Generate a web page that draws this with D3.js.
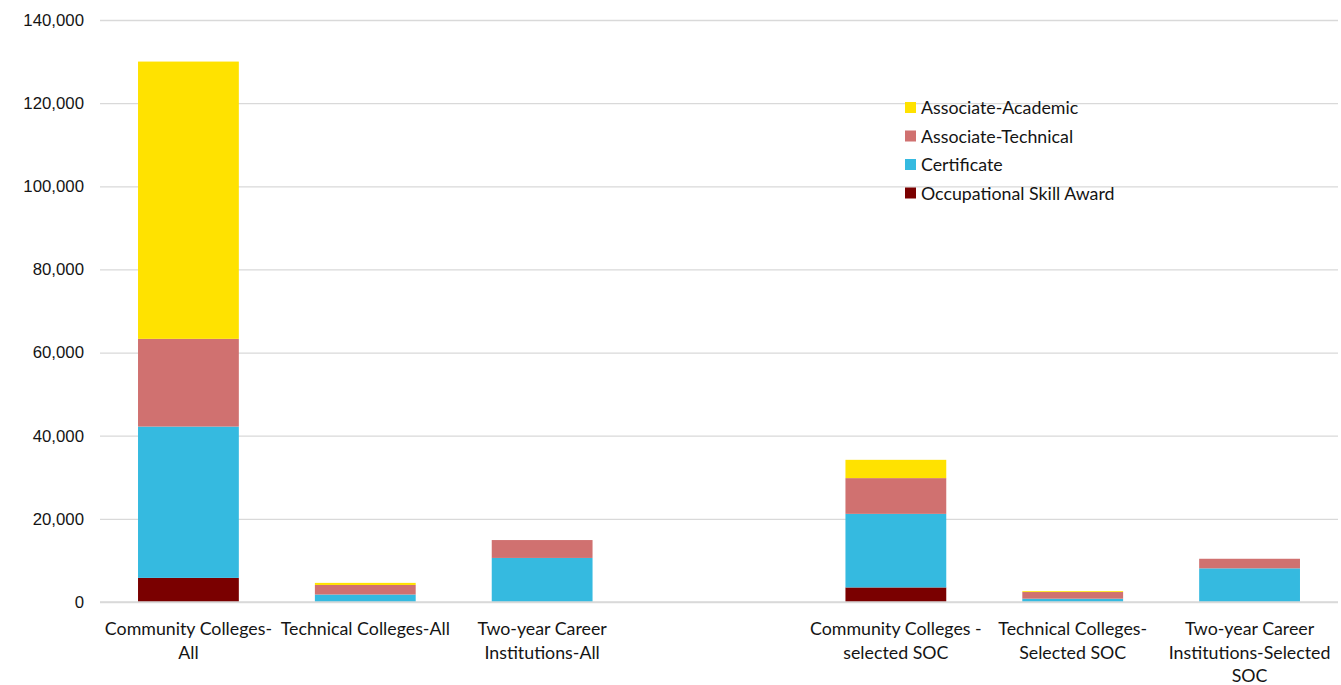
<!DOCTYPE html>
<html>
<head>
<meta charset="utf-8">
<script src="https://cdn.jsdelivr.net/npm/d3@7"></script>
<style>
  html, body { margin: 0; padding: 0; background: #fff; }
  svg { display: block; font-family: Lato, "Open Sans", sans-serif; }
</style>
</head>
<body>
<svg id="chart" width="1341" height="685"></svg>
<script>
// Institution groups (one empty slot separates "All" from "Selected SOC")
const categories = ["cc_all", "tc_all", "tyc_all", "gap", "cc_soc", "tc_soc", "tyc_soc"];
const categoryLabels = [
  ["Community Colleges-", "All"],
  ["Technical Colleges-All"],
  ["Two-year Career", "Institutions-All"],
  [],
  ["Community Colleges -", "selected SOC"],
  ["Technical Colleges-", "Selected SOC"],
  ["Two-year Career", "Institutions-Selected", "SOC"]
];

// Award counts, stacked bottom to top
const occupationalSkillAward = [5800, 0, 0, null, 3500, 0, 0];
const certificate            = [36400, 1800, 10600, null, 17700, 800, 8100];
const associateTechnical     = [21100, 2300, 4300, null, 8600, 1600, 2300];
const associateAcademic      = [66700, 500, 0, null, 4400, 200, 0];

const seriesNames  = ["Occupational Skill Award", "Certificate", "Associate-Technical", "Associate-Academic"];
const seriesColors = ["#7a0000", "#35bae0", "#d07170", "#ffe200"];
const yTicks = [0, 20000, 40000, 60000, 80000, 100000, 120000, 140000];

const seriesValues = [occupationalSkillAward, certificate, associateTechnical, associateAcademic];
const rows = categories.map((c, i) => {
  const r = { cat: c };
  seriesNames.forEach((s, k) => { r[s] = seriesValues[k][i] || 0; });
  return r;
});
const stacked = d3.stack().keys(seriesNames)(rows);

const svg = d3.select("#chart");
const margin = { left: 100, right: 3, top: 20, bottom: 83 };
const W = 1341, H = 685;
const textColor = "#141414";

const x = d3.scaleBand()
  .domain(categories)
  .range([margin.left, W - margin.right])
  .paddingInner(0.43)
  .paddingOuter(0.215);

const y = d3.scaleLinear()
  .domain([0, 140000])
  .range([H - margin.bottom, margin.top]);

// Horizontal gridlines and value labels
const yAxis = svg.append("g")
  .attr("transform", `translate(${margin.left},0)`)
  .call(d3.axisLeft(y).tickValues(yTicks).tickSize(-(W - margin.right - margin.left))
    .tickFormat(d3.format(",")).tickPadding(16));
yAxis.select(".domain").remove();
yAxis.selectAll(".tick line").attr("stroke", "#d9d9d9").attr("stroke-width", 1.3);
yAxis.selectAll(".tick text").attr("fill", textColor).attr("font-size", 16.8);

// Stacked bars
svg.append("g").selectAll("g")
  .data(stacked)
  .join("g")
  .attr("fill", (d, i) => seriesColors[i])
  .selectAll("rect")
  .data(d => d.filter(p => p.data.cat !== "gap"))
  .join("rect")
  .attr("x", d => x(d.data.cat))
  .attr("width", x.bandwidth())
  .attr("y", d => y(d[1]))
  .attr("height", d => Math.max(0, y(d[0]) - y(d[1])));

// Baseline on top of the bars
svg.append("line")
  .attr("x1", margin.left).attr("x2", W - margin.right)
  .attr("y1", y(0)).attr("y2", y(0))
  .attr("stroke", "#d9d9d9").attr("stroke-width", 1.5);

// Category labels
const labels = svg.append("g").attr("fill", textColor).attr("font-size", 17.8).attr("text-anchor", "middle");
categories.forEach((c, i) => {
  const cx = x(c) + x.bandwidth() / 2;
  const t = labels.append("text").attr("x", cx).attr("y", 635);
  categoryLabels[i].forEach((line, j) => {
    t.append("tspan").attr("x", cx).attr("dy", j === 0 ? 0 : 23.5).text(line);
  });
});

// Legend (top entry is the top of the stack)
const legendOrder = seriesNames.slice().reverse();
const legendColors = seriesColors.slice().reverse();
const legend = svg.append("g").attr("transform", "translate(905,108)");
legendOrder.forEach((name, i) => {
  const g = legend.append("g").attr("transform", `translate(0,${i * 28.5})`);
  g.append("rect").attr("x", 0).attr("y", -6).attr("width", 11).attr("height", 11).attr("fill", legendColors[i]);
  g.append("text").attr("x", 16).attr("y", 0).attr("dy", "0.35em")
    .attr("font-size", 17.8).attr("fill", textColor).text(name);
});
</script>
</body>
</html>
